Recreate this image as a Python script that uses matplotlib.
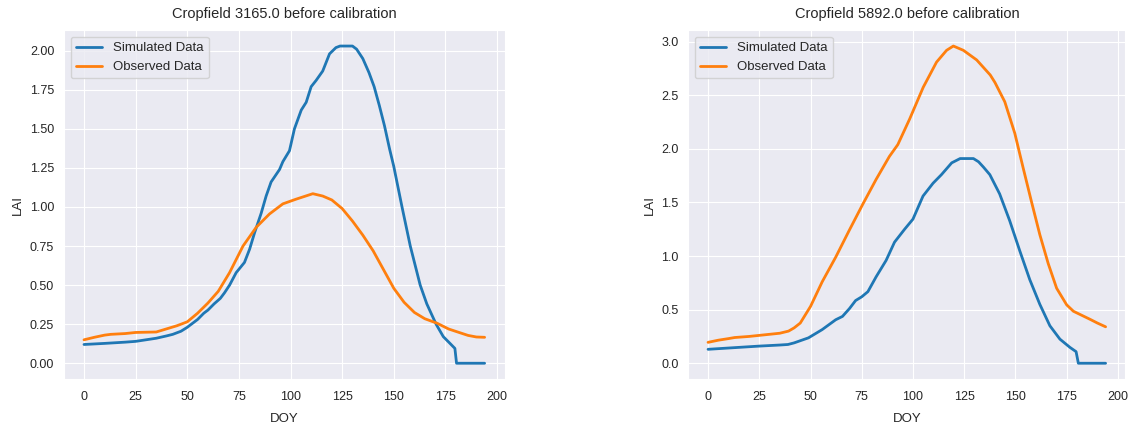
import matplotlib
matplotlib.use("Agg")
import matplotlib.pyplot as plt
import seaborn as sns

# field 3165
sim_doy_a = [0, 10, 20, 25, 30, 35, 40, 43, 47, 50, 53, 55, 58, 60, 63, 66, 68,
             70.5, 73.7, 77.7, 80.2, 82.6, 85.8, 88.2, 90.6, 94.7, 96.3, 99.5,
             101.9, 105.2, 107.6, 110, 112.4, 115.6, 118.9, 122, 124, 130, 132,
             135, 138, 140.5, 143, 145.5, 148, 150, 154, 158, 162.8, 166, 170.5,
             174, 177, 179.6, 180.4, 194]
sim_lai_a = [0.12, 0.127, 0.135, 0.14, 0.15, 0.16, 0.175, 0.185, 0.205, 0.23, 0.26,
             0.28, 0.32, 0.34, 0.38, 0.415, 0.45, 0.50, 0.58, 0.645, 0.73, 0.835,
             0.96, 1.07, 1.16, 1.24, 1.29, 1.36, 1.50, 1.62, 1.67, 1.77, 1.81,
             1.87, 1.98, 2.02, 2.03, 2.03, 2.01, 1.95, 1.86, 1.77, 1.65, 1.52,
             1.37, 1.26, 1.00, 0.75, 0.50, 0.38, 0.25, 0.17, 0.13, 0.095, 0.0,
             0.0]
obs_doy_a = [0, 5, 10, 13, 20, 25, 35, 40, 45, 50, 55, 60, 65, 70.5, 77, 83.4,
             89.8, 96.3, 102.7, 110.8, 115.6, 120, 125, 130, 135, 140, 145, 150,
             155, 160, 165, 171, 176.6, 181.4, 186, 190, 194]
obs_lai_a = [0.15, 0.166, 0.18, 0.185, 0.19, 0.197, 0.20, 0.22, 0.24, 0.265, 0.32,
             0.385, 0.46, 0.58, 0.75, 0.87, 0.955, 1.02, 1.05, 1.085, 1.07, 1.045,
             0.99, 0.91, 0.82, 0.72, 0.60, 0.48, 0.39, 0.325, 0.285, 0.256,
             0.219, 0.198, 0.178, 0.168, 0.166]

# field 5892
sim_doy_b = [0, 25, 35, 39, 42, 49, 55.7, 62.3, 65.6, 69, 72, 75, 78, 82, 86.9,
             91, 95.9, 100, 104.9, 109.8, 113.9, 118.9, 123, 129.5, 132, 134.4,
             137.5, 142.3, 147.2, 152.1, 157, 161.9, 166.8, 171.7, 176.6, 179.6,
             180.7, 194]
sim_lai_b = [0.13, 0.16, 0.17, 0.175, 0.19, 0.237, 0.314, 0.406, 0.437, 0.51,
             0.585, 0.62, 0.668, 0.806, 0.96, 1.13, 1.25, 1.345, 1.56, 1.68, 1.76,
             1.87, 1.91, 1.91, 1.88, 1.83, 1.76, 1.58, 1.33, 1.05, 0.78, 0.55,
             0.35, 0.225, 0.148, 0.108, 0.0, 0.0]
obs_doy_b = [0, 5, 10, 13, 20, 25, 30, 35, 39.3, 42, 45, 50, 55.7, 62.3, 68.9,
             75.4, 82, 88.5, 92.6, 98.4, 105, 111.5, 116.4, 119.7, 124.6, 131.1,
             137.7, 140, 144.8, 149.7, 153.8, 157.8, 161.9, 166, 170.1, 175,
             178.3, 186.4, 190, 194]
obs_lai_b = [0.195, 0.215, 0.23, 0.24, 0.25, 0.26, 0.27, 0.28, 0.30, 0.33, 0.375,
             0.53, 0.76, 0.99, 1.24, 1.48, 1.715, 1.93, 2.04, 2.28, 2.575, 2.81,
             2.92, 2.96, 2.92, 2.83, 2.69, 2.62, 2.44, 2.145, 1.82, 1.51, 1.20,
             0.93, 0.70, 0.545, 0.485, 0.41, 0.375, 0.34]

fields = [
    ("3165.0", sim_doy_a, sim_lai_a, obs_doy_a, obs_lai_a),
    ("5892.0", sim_doy_b, sim_lai_b, obs_doy_b, obs_lai_b),
]

sns.set_style("darkgrid")
plt.rcParams['font.family'] = ['Liberation Sans', 'DejaVu Sans']

fig = plt.figure(figsize=(11.3, 4.25), dpi=100)
ax_a = fig.add_axes([0.0566, 0.108, 0.390, 0.821])
ax_b = fig.add_axes([0.609, 0.108, 0.387, 0.821])

for ax, (name, sx, sy, ox, oy) in zip([ax_a, ax_b], fields):
    ax.plot(sx, sy, color='#1f77b4', lw=2, label='Simulated Data')
    ax.plot(ox, oy, color='#ff7f0e', lw=2, label='Observed Data')
    ax.set_title(f"Cropfield {name} before calibration", fontsize=10.5, pad=9)
    ax.set_xlabel("DOY", fontsize=9.5, labelpad=7)
    ax.set_ylabel("LAI", fontsize=9.5)
    ax.set_xticks(range(0, 201, 25))
    ax.tick_params(labelsize=9)
    ax.tick_params(axis='x', pad=5)
    ax.legend(loc='upper left', fontsize=9.5)

ax_a.set_yticks([0, 0.25, 0.5, 0.75, 1.0, 1.25, 1.5, 1.75, 2.0])
ax_a.set_yticklabels([f"{v:.2f}" for v in ax_a.get_yticks()])

fig.savefig("out.png", dpi=100)
